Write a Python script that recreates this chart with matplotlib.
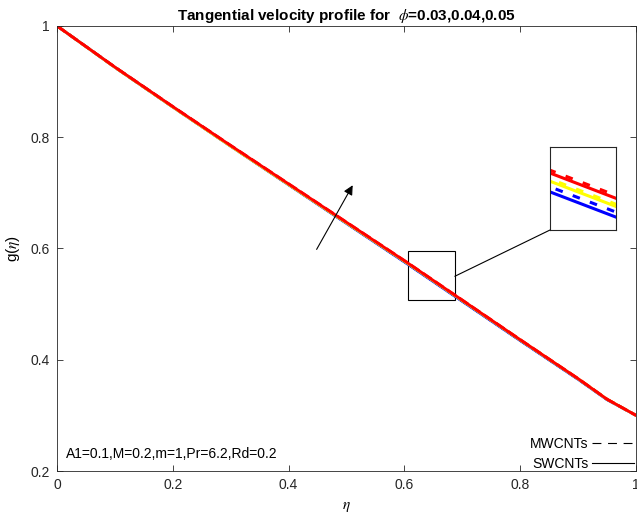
import matplotlib
matplotlib.use("Agg")
import matplotlib.pyplot as plt
from matplotlib.patches import Rectangle, ConnectionPatch
from matplotlib.lines import Line2D

plt.rcParams['font.family'] = ['Liberation Sans', 'DejaVu Sans']
plt.rcParams['mathtext.fontset'] = 'stix'

# similarity variable and tangential velocity g(eta) for phi = 0.03, 0.04, 0.05
eta = [0, 0.1, 0.2, 0.3, 0.4, 0.5, 0.6, 0.7, 0.8, 0.9, 0.95, 1.0]

g_swcnt_003 = [1.0, 0.9256, 0.8542, 0.7838, 0.7144, 0.645, 0.5758, 0.505, 0.4344, 0.3648, 0.3282, 0.300]
g_mwcnt_003 = [1.0, 0.92568, 0.8544, 0.78412, 0.7148, 0.6456, 0.5764, 0.50552, 0.4348, 0.3652, 0.3286, 0.300]
g_swcnt_004 = [1.0, 0.9256, 0.8542, 0.7838, 0.7148, 0.6458, 0.577, 0.5062, 0.4354, 0.3656, 0.3288, 0.300]
g_mwcnt_004 = [1.0, 0.92572, 0.85448, 0.78428, 0.7152, 0.6462, 0.57728, 0.5064, 0.4356, 0.36576, 0.32888, 0.300]
g_swcnt_005 = [1.0, 0.926, 0.855, 0.785, 0.716, 0.647, 0.578, 0.507, 0.436, 0.366, 0.329, 0.300]
g_mwcnt_005 = [1.0, 0.92612, 0.8552, 0.78528, 0.71632, 0.64732, 0.57832, 0.50732, 0.43624, 0.36616, 0.32908, 0.300]

series = [
    (g_mwcnt_003, '#0000ff', '--'),
    (g_swcnt_003, '#0000ff', '-'),
    (g_mwcnt_004, '#ffff00', '--'),
    (g_swcnt_004, '#ffff00', '-'),
    (g_mwcnt_005, '#ff0000', '--'),
    (g_swcnt_005, '#ff0000', '-'),
]

fig = plt.figure(figsize=(6.37, 5.23), dpi=100)
ax = fig.add_axes([0.0895, 0.0994, 0.909, 0.851])

for g, c, ls in series:
    ax.plot(eta, g, color=c, linestyle=ls, linewidth=2.0)

ax.set_xlim(0, 1)
ax.set_ylim(0.2, 1)
ax.set_xticks([0, 0.2, 0.4, 0.6, 0.8, 1])
ax.set_xticklabels(['0', '0.2', '0.4', '0.6', '0.8', '1'])
ax.set_yticks([0.2, 0.4, 0.6, 0.8, 1])
ax.set_yticklabels(['0.2', '0.4', '0.6', '0.8', '1'])
ax.tick_params(direction='in', length=4, width=0.6, top=True, right=True,
               labelsize=10, colors='#262626', pad=5)
for s in ax.spines.values():
    s.set_color('#262626')
    s.set_linewidth(0.6)

ax.set_title(r'Tangential velocity profile for  $\phi$=0.03,0.04,0.05',
             fontsize=11, fontweight='bold', pad=4)
ax.set_xlabel(r'$\eta$', fontsize=11, labelpad=6)
ax.set_ylabel(r'g($\eta$)', fontsize=11, labelpad=6)

ax.text(0.016, 0.23, 'A1=0.1,M=0.2,m=1,Pr=6.2,Rd=0.2', fontsize=10,
        va='center', ha='left')

# arrow showing increasing phi
ax.annotate('', xy=(0.513, 0.718), xytext=(0.446, 0.594),
            arrowprops=dict(arrowstyle='-|>', color='k', lw=0.8,
                            mutation_scale=14))

# zoom window and connector
ax.add_patch(Rectangle((0.606, 0.507), 0.081, 0.088, fill=False,
                       edgecolor='k', linewidth=0.8))

axin = fig.add_axes([0.8634, 0.5602, 0.1036, 0.1587])
for g, c, ls in series:
    axin.plot(eta, g, color=c, linestyle=ls, linewidth=2.2,
              dashes=(2.5, 3.5) if ls == '--' else (None, None))
axin.set_xlim(0.640, 0.644)
axin.set_ylim(0.5432, 0.55252)
axin.set_xticks([])
axin.set_yticks([])
for s in axin.spines.values():
    s.set_color('#262626')
    s.set_linewidth(0.8)

con = ConnectionPatch(xyA=(0.687, 0.55), coordsA=ax.transData,
                      xyB=(0, 0), coordsB=axin.transAxes,
                      color='k', linewidth=0.8)
fig.add_artist(con)

# legend with the line sample after the label
handles = [Line2D([], [], color='k', linestyle='--', linewidth=0.8, dashes=(8, 6)),
           Line2D([], [], color='k', linestyle='-', linewidth=0.8)]
ax.legend(handles, ['MWCNTs', 'SWCNTs'], loc='lower right', frameon=False,
          markerfirst=False, fontsize=10, handlelength=3.0, handletextpad=0.3,
          labelspacing=0.45, borderaxespad=0.0, bbox_to_anchor=(1.006, -0.013))

fig.savefig('out.png', dpi=100)
